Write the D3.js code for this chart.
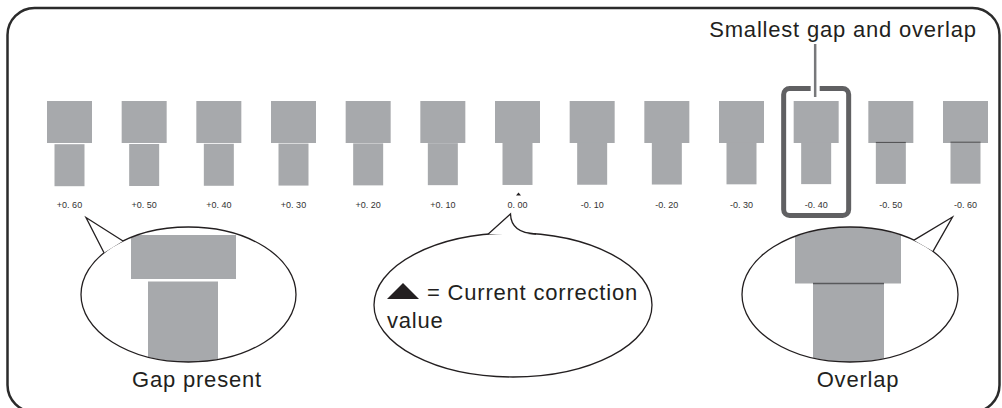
<!DOCTYPE html>
<html lang="en">
<head>
    <meta charset="UTF-8">
    <title>Correction value patterns</title>
    <script src="https://d3js.org/d3.v7.min.js"></script>
    <style>
        body {
            margin: 0;
            padding: 0;
            background-color: #fff;
            font-family: "Liberation Sans", Arial, sans-serif;
        }
        svg { display: block; }
        .big { font-size: 22px; letter-spacing: 0.8px; fill: #231f20; }
        .tick { font-size: 9px; fill: #333; }
    </style>
</head>
<body>
    <svg id="chart" width="1002" height="408"></svg>

    <script>
        // correction values printed under each pattern
        const corrections = [0.60, 0.50, 0.40, 0.30, 0.20, 0.10, 0.00, -0.10, -0.20, -0.30, -0.40, -0.50, -0.60];
        const tickLabels = ['+0. 60', '+0. 50', '+0. 40', '+0. 30', '+0. 20', '+0. 10', '0. 00',
                            '-0. 10', '-0. 20', '-0. 30', '-0. 40', '-0. 50', '-0. 60'];
        const currentValue = 0.00;
        const bestValue = -0.40;
        const captions = ['Gap present', 'Overlap'];

        const grey = '#a7a9ac';
        const ink = '#231f20';

        const svg = d3.select('#chart');

        // outer rounded frame
        svg.append('rect')
            .attr('x', 7.5).attr('y', 8)
            .attr('width', 992).attr('height', 404)
            .attr('rx', 27)
            .attr('fill', 'none')
            .attr('stroke', '#2b2b2b')
            .attr('stroke-width', 2.5);

        // scales
        const x = d3.scalePoint()
            .domain(corrections)
            .range([69.5, 965.5]);
        const gap = d3.scaleLinear().domain([-0.6, 0.6]).range([-1.3, 1.2]);

        const topY = 101, topH = 42, topW = 45;
        const botH = 42, botW = 30;

        const pat = svg.selectAll('.pattern')
            .data(corrections)
            .enter()
            .append('g')
            .attr('class', 'pattern')
            .attr('transform', d => `translate(${x(d)},0)`);

        pat.append('rect')
            .attr('x', -topW / 2).attr('y', topY)
            .attr('width', topW).attr('height', topH)
            .attr('fill', grey);

        pat.append('rect')
            .attr('x', -botW / 2)
            .attr('y', d => topY + topH + gap(d))
            .attr('width', botW).attr('height', botH)
            .attr('fill', grey);

        // visible seam where the pieces overlap
        pat.filter(d => d < bestValue)
            .append('line')
            .attr('x1', -botW / 2).attr('x2', botW / 2)
            .attr('y1', d => topY + topH + gap(d) + 0.5)
            .attr('y2', d => topY + topH + gap(d) + 0.5)
            .attr('stroke', '#4d4d4f')
            .attr('stroke-width', 1);

        pat.append('text')
            .attr('class', 'tick')
            .attr('y', 207.5)
            .attr('text-anchor', 'middle')
            .text((d, i) => tickLabels[i]);

        // current value marker
        const cx0 = x(currentValue) + 1;
        svg.append('path')
            .attr('d', `M${cx0 - 2.5},195.5 L${cx0},192.5 L${cx0 + 2.5},195.5 Z`)
            .attr('fill', ink);

        // highlight box around the best value
        const bx = x(bestValue);
        svg.append('rect')
            .attr('x', bx - 32.5).attr('y', 88.5)
            .attr('width', 65).attr('height', 127)
            .attr('rx', 6)
            .attr('fill', 'none')
            .attr('stroke', '#606062')
            .attr('stroke-width', 5);
        svg.append('rect')
            .attr('x', bx - 5.5).attr('y', 84)
            .attr('width', 9).attr('height', 8)
            .attr('fill', '#fff');
        svg.append('line')
            .attr('x1', bx - 1).attr('x2', bx - 1)
            .attr('y1', 44).attr('y2', 97)
            .attr('stroke', '#77787b')
            .attr('stroke-width', 2.5);
        svg.append('text')
            .attr('class', 'big')
            .attr('x', 843).attr('y', 37)
            .attr('text-anchor', 'middle')
            .text('Smallest gap and overlap');

        // speech bubbles
        const onEllipse = (e, px, side) => {
            const dx = (px - e.cx) / e.rx;
            return e.cy + side * e.ry * Math.sqrt(Math.max(0, 1 - dx * dx));
        };

        // fill + clipped content + outline on top + tail
        const bubble = (e, tailPath, id, drawInside) => {
            const g = svg.append('g');
            g.append('clipPath').attr('id', id)
                .append('ellipse')
                .attr('cx', e.cx).attr('cy', e.cy).attr('rx', e.rx).attr('ry', e.ry);
            g.append('ellipse')
                .attr('cx', e.cx).attr('cy', e.cy).attr('rx', e.rx).attr('ry', e.ry)
                .attr('fill', '#fff');
            if (drawInside) drawInside(g.append('g').attr('clip-path', `url(#${id})`));
            g.append('ellipse')
                .attr('cx', e.cx).attr('cy', e.cy).attr('rx', e.rx).attr('ry', e.ry)
                .attr('fill', 'none')
                .attr('stroke', ink)
                .attr('stroke-width', 1.3);
            g.append('path')
                .attr('d', tailPath)
                .attr('fill', '#fff')
                .attr('stroke', ink)
                .attr('stroke-width', 1.3)
                .attr('stroke-linejoin', 'miter');
            return g;
        };

        // left: gap present
        const eL = {cx: 188.5, cy: 294.5, rx: 107.5, ry: 67.5};
        bubble(eL,
            `M123,${onEllipse(eL, 123, -1)} L86,217.5 L104,${onEllipse(eL, 104, -1)}`, 'clipL', z => {
                z.append('rect').attr('x', 131).attr('y', 235).attr('width', 105).attr('height', 44).attr('fill', grey);
                z.append('rect').attr('x', 148).attr('y', 281.5).attr('width', 70).attr('height', 90).attr('fill', grey);
            });

        // right: overlap
        const eR = {cx: 850, cy: 294.5, rx: 108, ry: 67.5};
        bubble(eR,
            `M914,${onEllipse(eR, 914, -1)} L952.5,217 L933,${onEllipse(eR, 933, -1)}`, 'clipR', z => {
                z.append('rect').attr('x', 795).attr('y', 225).attr('width', 106).attr('height', 58.5).attr('fill', grey);
                z.append('rect').attr('x', 813).attr('y', 283).attr('width', 71).attr('height', 90).attr('fill', grey);
                z.append('line').attr('x1', 813).attr('x2', 884).attr('y1', 283.5).attr('y2', 283.5)
                    .attr('stroke', '#58595b').attr('stroke-width', 1.5);
            });

        // centre: legend for the marker
        const eC = {cx: 513, cy: 305, rx: 139, ry: 72};
        bubble(eC,
            `M488,${onEllipse(eC, 488, -1)} L510.5,214 Q511,233 536,${onEllipse(eC, 536, -1)}`, 'clipC');
        svg.append('path')
            .attr('d', 'M387,299 L403,283 L419,299 Z')
            .attr('fill', ink);
        svg.append('text').attr('class', 'big').attr('x', 427).attr('y', 300).text('= Current correction');
        svg.append('text').attr('class', 'big').attr('x', 387).attr('y', 328).text('value');

        // captions
        svg.append('text').attr('class', 'big')
            .attr('x', 197).attr('y', 387).attr('text-anchor', 'middle')
            .text(captions[0]);
        svg.append('text').attr('class', 'big')
            .attr('x', 858).attr('y', 387).attr('text-anchor', 'middle')
            .text(captions[1]);
    </script>
</body>
</html>
